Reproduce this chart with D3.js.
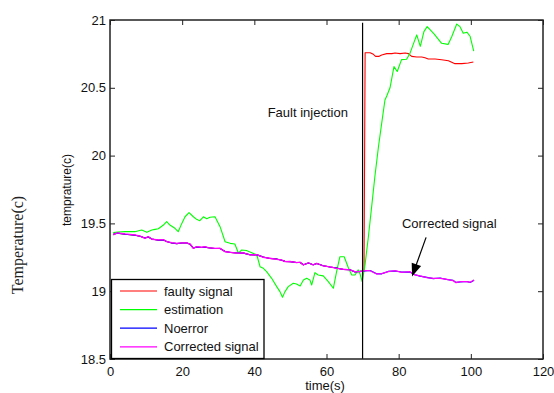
<!DOCTYPE html>
<html><head><meta charset="utf-8">
<script src="https://cdn.jsdelivr.net/npm/d3@7"></script>
<style>
body{margin:0;background:#fff;}
svg{display:block;}
text{font-family:"Liberation Sans",Arial,sans-serif;}
</style></head>
<body>
<svg id="chart" width="554" height="393"></svg>
<script>
// ---- data ----
const xTicks = [0,20,40,60,80,100,120];
const yTicks = [18.5,19,19.5,20,20.5,21];
const yTickLabels = ["18.5","19","19.5","20","20.5","21"];
const seriesNames = ["faulty signal","estimation","Noerror","Corrected signal"];
const seriesColors = ["#ff0000","#00ff00","#0000ff","#ff00ff"];

const tBase = [0.9,2,4.2,6.9,8.3,9.7,10.6,11.6,13.4,14.8,15.7,17.1,18.5,20,21.3,22.2,23.1,24,25.4,26.3,27.2,29.1,30.5,31.9,33.5,35.1,37,38.8,40.7,42.5,44.3,46.2,47.6,48.5,49.9,51.7,52.7,53.6,55,56.3,57.3,59.1,61,62.8,64.7,66.5,67.9,69.3,70.7,72.1,73.9,75.3,77.1,79,80.8,83.1,84.5,85.9,87.8,89.6,91.5,93.3,95.1,95.9,97,98.9,99.8,100.9];
const vCorrected = [19.415,19.43,19.422,19.415,19.407,19.39,19.403,19.383,19.378,19.381,19.365,19.358,19.353,19.357,19.356,19.348,19.316,19.328,19.324,19.328,19.321,19.316,19.317,19.291,19.287,19.28,19.283,19.267,19.27,19.25,19.243,19.235,19.23,19.218,19.22,19.21,19.214,19.193,19.21,19.193,19.206,19.186,19.18,19.169,19.162,19.157,19.144,19.144,19.151,19.151,19.127,19.13,19.144,19.151,19.139,19.144,19.12,19.113,19.1,19.095,19.095,19.088,19.078,19.063,19.07,19.07,19.066,19.083];
const vNoerror = [19.42,19.428,19.42,19.413,19.405,19.392,19.4,19.385,19.376,19.378,19.367,19.356,19.351,19.355,19.355,19.346,19.318,19.326,19.322,19.326,19.32,19.315,19.315,19.293,19.285,19.282,19.281,19.269,19.268,19.252,19.241,19.237,19.228,19.22,19.218,19.212,19.212,19.195,19.208,19.195,19.204,19.188,19.178,19.171,19.16,19.159,19.142,19.146,19.149,19.153,19.129,19.128,19.146,19.149,19.141,19.142,19.122,19.111,19.102,19.093,19.097,19.086,19.08,19.065,19.068,19.072,19.064,19.081];

const tFaulty = [0.9,2,4.2,6.9,8.3,9.7,10.6,11.6,13.4,14.8,15.7,17.1,18.5,20,21.3,22.2,23.1,24,25.4,26.3,27.2,29.1,30.5,31.9,33.5,35.1,37,38.8,40.7,42.5,44.3,46.2,47.6,48.5,49.9,51.7,52.7,53.6,55,56.3,57.3,59.1,61,62.8,64.7,66.5,67.9,69.3,70.4,70.7,72.1,73,73.6,74.6,75.3,76.7,78.1,79,80.4,81.8,82.7,83.6,85,86.4,87.3,88.2,90.1,91.9,93.8,95.6,97.5,99.3,100.7];
const vFaulty = [19.42,19.428,19.42,19.413,19.405,19.392,19.4,19.385,19.376,19.378,19.367,19.356,19.351,19.355,19.355,19.346,19.318,19.326,19.322,19.326,19.32,19.315,19.315,19.293,19.285,19.282,19.281,19.269,19.268,19.252,19.241,19.237,19.228,19.22,19.218,19.212,19.212,19.195,19.208,19.195,19.204,19.188,19.178,19.171,19.16,19.159,19.142,19.146,19.15,20.759,20.759,20.747,20.732,20.732,20.742,20.752,20.752,20.757,20.752,20.757,20.752,20.732,20.727,20.727,20.722,20.712,20.712,20.707,20.7,20.678,20.678,20.683,20.69];

const tEstimation = [0.9,2.3,4.2,6.9,8.8,10.2,11.6,12.5,13.4,14.8,15.7,16.6,18,18.9,19.9,20.8,21.9,23.1,24,24.9,25.9,26.8,27.7,29.1,30.5,31.9,33.3,34.6,35.6,36.5,37.8,39.3,40.7,41.6,42.5,43.4,44.8,46.2,47.1,47.8,48.5,49.4,50.8,51.7,52.7,53.6,54.5,55.4,55.9,56.8,57.7,59.1,60.5,61.9,62.8,63.7,64.9,66.1,67,67.9,68.8,69.3,69.9,70.7,71.6,72.5,73.4,74.4,75.3,76.2,76.7,77.6,78.7,79.6,80.8,82.2,83.1,85,86,87,87.9,89.8,91.9,93.7,94.7,96.1,97,97.9,98.9,99.8,100.8];
const vEstimation = [19.432,19.437,19.439,19.439,19.451,19.434,19.451,19.456,19.461,19.488,19.513,19.488,19.464,19.439,19.5,19.549,19.579,19.549,19.53,19.52,19.549,19.535,19.545,19.549,19.476,19.365,19.353,19.348,19.28,19.304,19.3,19.284,19.267,19.18,19.169,19.144,19.095,19.034,18.997,18.955,18.997,19.034,19.058,19.053,19.038,19.083,19.095,19.083,19.046,19.137,19.12,19.113,19.071,19.022,19.144,19.254,19.254,19.169,19.12,19.12,19.157,19.127,19.071,19.2,19.4,19.62,19.844,20.065,20.24,20.41,20.44,20.5,20.656,20.62,20.708,20.71,20.752,20.89,20.806,20.914,20.951,20.898,20.828,20.82,20.877,20.97,20.951,20.902,20.91,20.88,20.77];

const faultTime = 70;
const faultLabel = "Fault injection";
const arrowLabel = "Corrected signal";

// ---- layout ----
const svg = d3.select("#chart");
const x = d3.scaleLinear().domain([0,120]).range([110,543]);
const y = d3.scaleLinear().domain([18.5,21]).range([359,20]);

const axisColor = "#222";
const gB = svg.append("g").attr("transform",`translate(0,${y(18.5)})`)
  .call(d3.axisBottom(x).tickValues(xTicks).tickSize(-5).tickPadding(8).tickFormat(d3.format("d")));
const gT = svg.append("g").attr("transform",`translate(0,${y(21)})`)
  .call(d3.axisTop(x).tickValues(xTicks).tickSize(-5).tickFormat(""));
const gL = svg.append("g").attr("transform",`translate(${x(0)},0)`)
  .call(d3.axisLeft(y).tickValues(yTicks).tickSize(-5).tickPadding(4).tickFormat((d,i)=>yTickLabels[i]));
const gR = svg.append("g").attr("transform",`translate(${x(120)},0)`)
  .call(d3.axisRight(y).tickValues(yTicks).tickSize(-5).tickFormat(""));
[gB,gT,gL,gR].forEach(g=>{
  g.select(".domain").remove();
  g.selectAll(".tick line").attr("stroke",axisColor).attr("stroke-width",1);
  g.selectAll("text").attr("font-size",13).attr("fill","#111");
});

// series
const line = d3.line().x(d=>x(d[0])).y(d=>y(d[1]));
const zip = (t,v)=>t.map((tt,i)=>[tt,v[i]]);
const series = [zip(tFaulty,vFaulty), zip(tEstimation,vEstimation), zip(tBase,vNoerror), zip(tBase,vCorrected)];
const widths = [1.1,1.1,1.1,1.3];
series.forEach((s,i)=>{
  svg.append("path").datum(s).attr("d",line).attr("fill","none")
    .attr("stroke",seriesColors[i]).attr("stroke-width",widths[i]).attr("stroke-linejoin","round");
});

// fault injection vertical line
svg.append("line").attr("x1",x(faultTime)).attr("x2",x(faultTime))
  .attr("y1",y(20.98)).attr("y2",y(18.5)).attr("stroke","#000").attr("stroke-width",1.2);

// frame
svg.append("rect").attr("x",x(0)).attr("y",y(21)).attr("width",x(120)-x(0)).attr("height",y(18.5)-y(21))
  .attr("fill","none").attr("stroke",axisColor).attr("stroke-width",1.5);

// annotations
svg.append("text").attr("x",x(43.7)).attr("y",y(20.287)).attr("font-size",13).attr("fill","#111").text(faultLabel);
svg.append("text").attr("x",x(80.9)).attr("y",y(19.466)).attr("font-size",13).attr("fill","#111").text(arrowLabel);
const ax1 = x(87.6), ay1 = y(19.397), ax2 = x(83.7), ay2 = y(19.108);
const ang = Math.atan2(ay2-ay1, ax2-ax1);
const hl = 13, hw = 5;
svg.append("line").attr("x1",ax1).attr("y1",ay1).attr("x2",ax2 - Math.cos(ang)*hl*0.8).attr("y2",ay2 - Math.sin(ang)*hl*0.8)
  .attr("stroke","#000").attr("stroke-width",1.2);
const bx = ax2 - Math.cos(ang)*hl, by = ay2 - Math.sin(ang)*hl;
svg.append("path").attr("d",`M${ax2},${ay2}L${bx + Math.sin(ang)*hw},${by - Math.cos(ang)*hw}L${bx - Math.sin(ang)*hw},${by + Math.cos(ang)*hw}Z`)
  .attr("fill","#000");

// axis labels
svg.append("text").attr("x",325).attr("y",390).attr("text-anchor","middle").attr("font-size",13).attr("fill","#111").text("time(s)");
svg.append("text").attr("transform","translate(71,190) rotate(-90)").attr("text-anchor","middle")
  .attr("font-size",12).attr("fill","#111").text("temprature(c)");
svg.append("text").attr("transform","translate(23,245) rotate(-90)").attr("text-anchor","middle")
  .attr("font-size",16).attr("fill","#222")
  .style("font-family","'Liberation Serif','Times New Roman',serif").text("Temperature(c)");

// legend
const lg = svg.append("g");
lg.append("rect").attr("x",111.5).attr("y",279.5).attr("width",152.5).attr("height",79)
  .attr("fill","#fff").attr("stroke","#000").attr("stroke-width",1.3);
seriesNames.forEach((n,i)=>{
  const cy = 291 + i*18.6;
  lg.append("line").attr("x1",120).attr("x2",157).attr("y1",cy).attr("y2",cy)
    .attr("stroke",seriesColors[i]).attr("stroke-width",1.2);
  lg.append("text").attr("x",164).attr("y",cy+4.6).attr("font-size",13).attr("fill","#111").text(n);
});
</script>
</body></html>
